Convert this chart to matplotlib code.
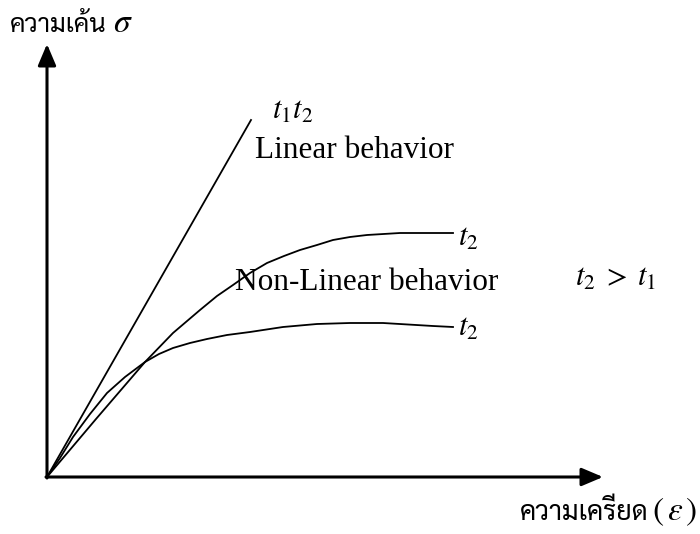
import matplotlib

matplotlib.use("Agg")
import matplotlib.pyplot as plt

plt.rcParams["mathtext.fontset"] = "stix"
SERIF = ["Liberation Serif", "DejaVu Serif"]
THAI = ["Sarabun", "Athiti", "DejaVu Sans"]

# strain / stress readings (arbitrary units)
linear_strain = [0, 204]
linear_stress = [0, 357]

upper_strain = [0, 49, 98, 126, 153, 170, 186, 203, 220, 237, 253, 270, 286, 303, 320, 353, 406]
upper_stress = [0, 58, 115, 144, 167, 181, 192, 204, 214, 221, 227, 232, 237, 240, 242, 244, 244]

lower_strain = [0, 13, 26, 43, 60, 78, 98, 112, 126, 143, 160, 180, 203, 236, 270, 303, 336, 386, 406]
lower_stress = [0, 19, 40, 63, 84, 100, 115, 123, 129, 134, 138, 142, 145, 150, 153, 154, 154, 151, 150]

fig = plt.figure(figsize=(7.0, 5.34), dpi=100)
ax = fig.add_axes([0, 0, 1, 1])
ax.set_xlim(-47, 653)
ax.set_ylim(-57, 477)
ax.axis("off")

for xs, ys in [(linear_strain, linear_stress), (upper_strain, upper_stress), (lower_strain, lower_stress)]:
    ax.plot(xs, ys, color="black", lw=1.3, solid_joinstyle="round")

arrow = dict(arrowstyle="-|>,head_length=1.3,head_width=0.55", color="black", lw=2.2, shrinkA=0, shrinkB=0)
ax.annotate("", xy=(0, 433), xytext=(0, -1), arrowprops=arrow)
ax.annotate("", xy=(556, 0), xytext=(-1, 0), arrowprops=arrow)

# axis titles
ax.text(-37, 445, "ความเค้น", family=THAI, fontsize=18.5, va="baseline", ha="left")
ax.text(66, 445, r"$\sigma$", fontsize=24, va="baseline", ha="left")
ax.text(473, -43, "ความเครียด", family=THAI, fontsize=19.5, va="baseline", ha="left")
ax.text(650, -43, r"$(\,\varepsilon\,)$", fontsize=24, va="baseline", ha="right")

# annotations
ax.text(225, 367, r"$t_1t_2$", fontsize=22, va="center", ha="left")
ax.text(208, 319, "Linear behavior", family=SERIF, fontsize=22.5, va="baseline")
ax.text(188, 187, "Non-Linear behavior", family=SERIF, fontsize=22.5, va="baseline")
ax.text(411, 239, r"$t_2$", fontsize=22, va="center", ha="left")
ax.text(411, 149, r"$t_2$", fontsize=22, va="center", ha="left")
ax.text(528, 200, r"$t_2\;>\;t_1$", fontsize=22, va="center", ha="left")

fig.savefig("out.png", dpi=100)
